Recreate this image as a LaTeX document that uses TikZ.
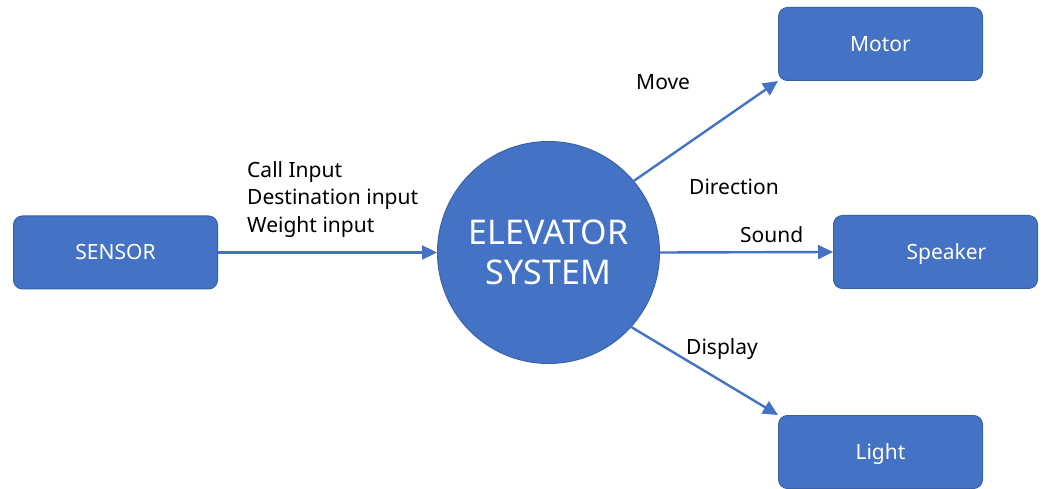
\documentclass[tikz,border=0pt]{standalone}
\usepackage{fontspec}
\setmainfont{Noto Sans}
\usetikzlibrary{arrows.meta}
\definecolor{boxfill}{HTML}{4472C4}
\definecolor{boxedge}{HTML}{3A62A8}
\begin{document}
\begin{tikzpicture}[x=1pt,y=-1pt,
  block/.style={draw=boxedge, line width=1pt, fill=boxfill, rounded corners=9pt,
    minimum width=204pt, minimum height=73pt, inner sep=0pt,
    text height=15pt, text depth=0pt,
    text=white, font=\fontsize{21}{25}\selectfont},
  hub/.style={circle, draw=boxedge, line width=1pt, fill=boxfill, minimum size=222pt,
    inner sep=0pt, text=white, align=center, font=\fontsize{34}{40}\selectfont},
  flow/.style={draw=boxfill, line width=2.4pt, -{Triangle[length=15pt,width=14pt]}},
  lbl/.style={text=black, inner sep=0pt, font=\fontsize{21}{27.5}\selectfont}]
\useasboundingbox (0,0) rectangle (1045,489);
\node[block] (sensor) at (115.5,252.5) {SENSOR};
\node[block] (motor) at (880.5,44) {Motor};
\node[block] (speaker) at (935.5,252) {\hspace*{22pt}Speaker};
\node[block] (light) at (880.5,452) {Light};
\node[hub] (sys) at (548.5,252.5) {ELEVATOR\\SYSTEM};
\draw[flow] (sensor.east) -- (sys.west);
\draw[flow] (sys.40) -- (motor.south west);
\draw[flow] (sys.east) -- (speaker.west);
\draw[flow] (sys.-42) -- (light.north west);
\node[lbl, align=left, anchor=north west] (inputs) at (247,161) {Call Input\\Destination input\\Weight input};
\node[lbl, anchor=base west] (move) at (636,90) {Move};
\node[lbl, anchor=base west] (direction) at (689,195) {Direction};
\node[lbl, anchor=base west] (sound) at (740,243) {Sound};
\node[lbl, anchor=base west] (display) at (686,354) {Display};
\end{tikzpicture}
\end{document}
